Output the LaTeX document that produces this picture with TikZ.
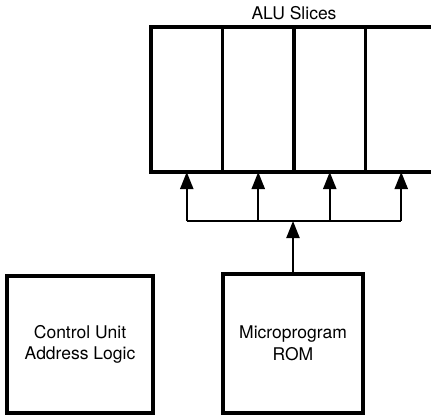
\documentclass[tikz,border=0pt]{standalone}
\usepackage{fontspec}
\setmainfont{TeX Gyre Heros}
\usetikzlibrary{arrows.meta}
\begin{document}
\begin{tikzpicture}[x=1pt,y=1pt,
  box/.style={draw=black,line width=3.4pt,rectangle,inner sep=0pt,outer sep=0pt,align=center,
    font=\fontsize{17.5}{21.5}\selectfont},
  slice/.style={box,minimum width=71.5pt,minimum height=145pt},
  wire/.style={line width=2.2pt},
  arr/.style={wire,-{Triangle[length=17pt,width=13pt]}}]
\useasboundingbox (0,0) rectangle (431,-415);
\node[slice] (s1) at (186.75,-99.5) {};
\node[slice] (s2) at (258.25,-99.5) {};
\node[slice] (s3) at (329.75,-99.5) {};
\node[slice] (s4) at (401.25,-99.5) {};
\node[font=\fontsize{17.5}{21.5}\selectfont] (alu) at (294,-13) {ALU Slices};
\node[box,minimum width=140pt,minimum height=139pt] (rom) at (293,-343.5) {Microprogram\\ROM};
\node[box,minimum width=146pt,minimum height=137pt] (cu) at (80,-344.5) {Control Unit\\Address Logic};
\coordinate (bus) at (0,-221);
\draw[wire] (s1.south |- bus) -- (s4.south |- bus);
\foreach \i in {1,2,3,4} \draw[arr] (s\i.south |- bus) -- (s\i.south);
\draw[arr] (rom.north) -- (rom.north |- bus);
\end{tikzpicture}
\end{document}
